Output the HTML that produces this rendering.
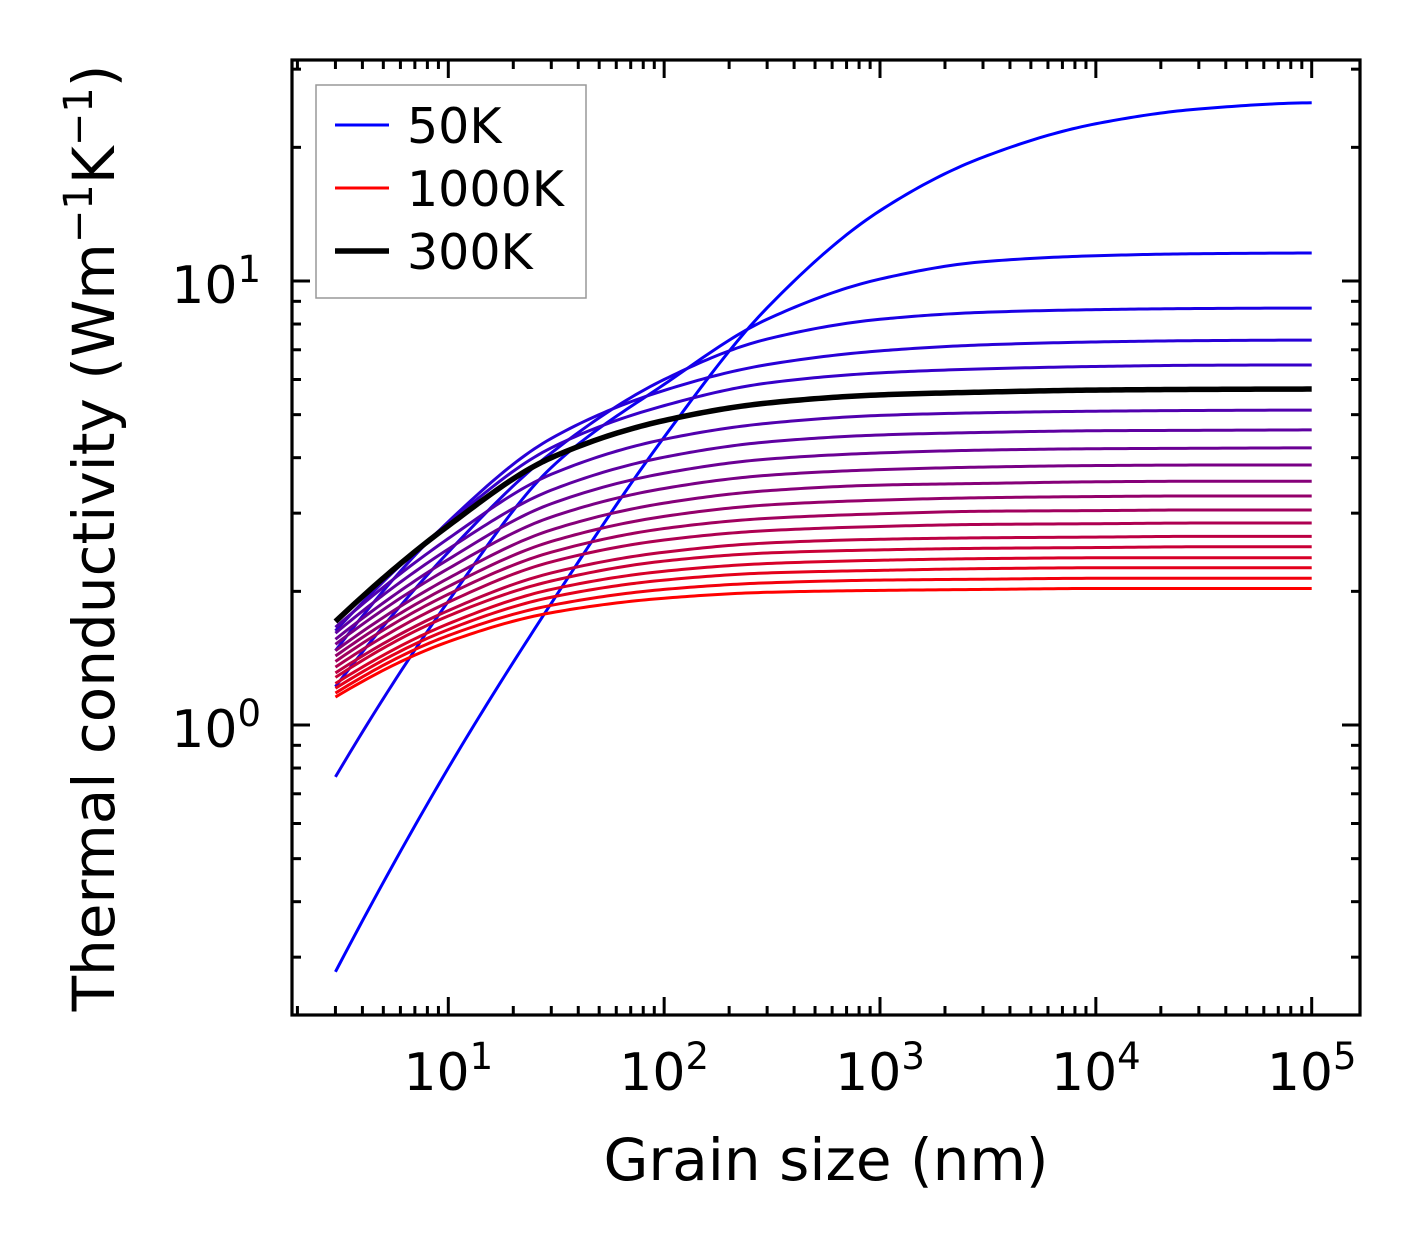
<!DOCTYPE html>
<html><head><meta charset="utf-8"><style>
html,body{margin:0;padding:0;background:#fff}
svg{display:block;font-family:"DejaVu Sans","Liberation Sans",sans-serif}
</style></head><body>
<svg id="chart" width="1421" height="1254" viewBox="0 0 1421 1254" xmlns="http://www.w3.org/2000/svg">
<rect x="0" y="0" width="1421" height="1254" fill="#fff"/>
<g id="curves"></g>
<g id="ticks"></g>
<rect x="292" y="60" width="1068" height="955" fill="none" stroke="#000" stroke-width="3.2"/>
<g id="labels" font-size="52" fill="#000"></g>
<text x="826" y="1180" font-size="58" text-anchor="middle">Grain size (nm)</text>
<text transform="translate(114,538) rotate(-90)" font-size="58" text-anchor="middle">Thermal conductivity (Wm<tspan dy="-22" font-size="40">−1</tspan><tspan dy="22">K</tspan><tspan dy="-22" font-size="40">−1</tspan><tspan dy="22">)</tspan></text>
<g>
<rect x="316" y="85" width="270" height="213" fill="#fff" stroke="#999" stroke-width="1.5"/>
<line x1="335" y1="125" x2="389" y2="125" stroke="#0000ff" stroke-width="3"/>
<text x="407" y="143" font-size="49">50K</text>
<line x1="335" y1="188" x2="389" y2="188" stroke="#ff0000" stroke-width="3"/>
<text x="407" y="206" font-size="49">1000K</text>
<line x1="335" y1="251" x2="389" y2="251" stroke="#000" stroke-width="5.5"/>
<text x="407" y="269" font-size="49">300K</text>
</g>
</svg>
<script>
const grainSizes = [3, 10, 30, 100, 300, 1000, 3000, 10000, 30000, 100000];
const temperatures = [50,100,150,200,250,300,350,400,450,500,550,600,650,700,750,800,850,900,950,1000];
const k50 = [0.278,0.80,1.88,4.45,8.7,14.4,19.0,22.6,24.4,25.2];
const k100 = [0.764,1.90,3.8,5.85,8.2,10.1,11.05,11.4,11.52,11.56];
const k150 = [1.22,2.45,4.1,6.0,7.4,8.2,8.5,8.62,8.67,8.69];
const k200 = [1.47,2.87,4.42,5.67,6.48,6.96,7.18,7.29,7.34,7.36];
const k250 = [1.63,2.85,4.21,5.24,5.89,6.21,6.34,6.42,6.46,6.47];
const k300 = [1.71,2.81,4.00,4.85,5.31,5.54,5.62,5.68,5.70,5.71];
const k350 = [1.66,2.63,3.67,4.40,4.78,4.98,5.05,5.09,5.11,5.12];
const k400 = [1.61,2.49,3.38,4.01,4.34,4.50,4.56,4.60,4.61,4.62];
const k450 = [1.56,2.36,3.15,3.69,3.97,4.10,4.16,4.19,4.20,4.21];
const k500 = [1.52,2.25,2.94,3.41,3.65,3.76,3.81,3.84,3.85,3.85];
const k550 = [1.47,2.14,2.75,3.16,3.37,3.47,3.50,3.53,3.54,3.54];
const k600 = [1.43,2.05,2.59,2.95,3.13,3.21,3.25,3.27,3.28,3.28];
const k650 = [1.39,1.97,2.45,2.77,2.92,2.99,3.03,3.04,3.05,3.05];
const k700 = [1.35,1.89,2.33,2.61,2.74,2.80,2.83,2.84,2.85,2.85];
const k750 = [1.31,1.81,2.20,2.45,2.57,2.62,2.64,2.65,2.66,2.66];
const k800 = [1.28,1.76,2.11,2.34,2.44,2.48,2.50,2.51,2.52,2.52];
const k850 = [1.24,1.69,2.02,2.22,2.31,2.35,2.37,2.38,2.38,2.38];
const k900 = [1.21,1.64,1.94,2.12,2.20,2.23,2.25,2.26,2.26,2.26];
const k950 = [1.18,1.59,1.86,2.02,2.09,2.12,2.13,2.14,2.14,2.14];
const k1000 = [1.156,1.54,1.79,1.93,1.99,2.01,2.02,2.03,2.03,2.03];
const series = [k50,k100,k150,k200,k250,k300,k350,k400,k450,k500,k550,k600,k650,k700,k750,k800,k850,k900,k950,k1000];
const xTickLabels = ["1","2","3","4","5"];
const yTickLabels = ["0","1"];

const NS = "http://www.w3.org/2000/svg";
const X0=292, X1=1360, Y0=60, Y1=1015;
const XDEC = 215.85, X10 = 448.3;
const YDEC = 444, Y1pos = 725;
function xs(v){ return X10 + (Math.log10(v)-1)*XDEC; }
function ys(v){ return Y1pos - Math.log10(v)*YDEC; }
const xLogMin = 1 - (X10-X0)/XDEC, xLogMax = 1 + (X1-X10)/XDEC;
const yLogMin = -(Y1-Y1pos)/YDEC, yLogMax = (Y1pos-Y0)/YDEC;

function curvePath(xv, yv){
  const lx = xv.map(Math.log10), ly = yv.map(Math.log10), n = lx.length;
  const d = [], h = [], m = [];
  for(let i=0;i<n-1;i++){ h.push(lx[i+1]-lx[i]); d.push((ly[i+1]-ly[i])/h[i]); }
  for(let i=1;i<n-1;i++){
    if(d[i-1]*d[i]<=0){ m[i]=0; continue; }
    const w1=2*h[i]+h[i-1], w2=h[i]+2*h[i-1];
    m[i]=(w1+w2)/(w1/d[i-1]+w2/d[i]);
  }
  function endT(h0,h1,d0,d1){
    let t=((2*h0+h1)*d0 - h0*d1)/(h0+h1);
    if(t*d0<=0) t=0; else if(d0*d1<=0 && Math.abs(t)>Math.abs(3*d0)) t=3*d0;
    return t;
  }
  m[0]=endT(h[0],h[1],d[0],d[1]);
  m[n-1]=endT(h[n-2],h[n-3],d[n-2],d[n-3]);
  let p = "";
  for(let i=0;i<n-1;i++){
    const hh = h[i];
    for(let j=0;j<=24;j++){
      if(i>0 && j===0) continue;
      const t=j/24, t2=t*t, t3=t2*t;
      const yv2 = (2*t3-3*t2+1)*ly[i] + (t3-2*t2+t)*hh*m[i] + (-2*t3+3*t2)*ly[i+1] + (t3-t2)*hh*m[i+1];
      const xv2 = lx[i]+t*hh;
      const px = xs(Math.pow(10,xv2)), py = ys(Math.pow(10,yv2));
      p += (p===""?"M":"L") + px.toFixed(2) + "," + py.toFixed(2);
    }
  }
  return p;
}

const cg = document.getElementById("curves");
const order = series.map((s,i)=>i).filter(i=>temperatures[i]!==300);
order.push(temperatures.indexOf(300));
order.forEach(i=>{
  const T = temperatures[i];
  const f = (T-50)/950;
  const path = document.createElementNS(NS,"path");
  path.setAttribute("d", curvePath(grainSizes, series[i]));
  path.setAttribute("fill","none");
  if(T===300){ path.setAttribute("stroke","#000"); path.setAttribute("stroke-width","5.5"); }
  else { path.setAttribute("stroke", `rgb(${Math.round(255*f)},0,${Math.round(255*(1-f))})`); path.setAttribute("stroke-width","3"); }
  path.setAttribute("stroke-linejoin","round");
  
  
  cg.appendChild(path);
});

const tg = document.getElementById("ticks");
function tick(x1,y1,x2,y2,name){
  const l=document.createElementNS(NS,"line");
  l.setAttribute("x1",x1);l.setAttribute("y1",y1);l.setAttribute("x2",x2);l.setAttribute("y2",y2);
  l.setAttribute("stroke","#000");l.setAttribute("stroke-width","3");
  
  
  tg.appendChild(l);
}
for(let e=0;e<=5;e++){
  for(let mlt=1;mlt<=9;mlt++){
    const v=mlt*Math.pow(10,e), lv=Math.log10(v);
    if(lv<xLogMin||lv>xLogMax) continue;
    const x=xs(v), len = mlt===1?18:9;
    tick(x,Y1,x,Y1-len,'x-tick'); tick(x,Y0,x,Y0+len,'x-tick-top');
  }
}
for(let e=-1;e<=1;e++){
  for(let mlt=1;mlt<=9;mlt++){
    const v=mlt*Math.pow(10,e), lv=Math.log10(v);
    if(lv<yLogMin||lv>yLogMax) continue;
    const y=ys(v), len = mlt===1?18:9;
    tick(X0,y,X0+len,y,'y-tick'); tick(X1,y,X1-len,y,'y-tick-right');
  }
}
const lg = document.getElementById("labels");
xTickLabels.forEach(s=>{
  const t=document.createElementNS(NS,"text");
  t.setAttribute("x", xs(Math.pow(10,+s)));
  t.setAttribute("y", 1090);
  t.setAttribute("text-anchor","middle");
  t.innerHTML = '10<tspan dy="-21" font-size="37">'+s+'</tspan>';
  
  
  lg.appendChild(t);
});
yTickLabels.forEach(s=>{
  const t=document.createElementNS(NS,"text");
  t.setAttribute("x", 261);
  t.setAttribute("y", ys(Math.pow(10,+s))+22);
  t.setAttribute("text-anchor","end");
  t.innerHTML = '10<tspan dy="-21" font-size="37">'+s+'</tspan>';
  
  
  lg.appendChild(t);
});
</script>
</body></html>
